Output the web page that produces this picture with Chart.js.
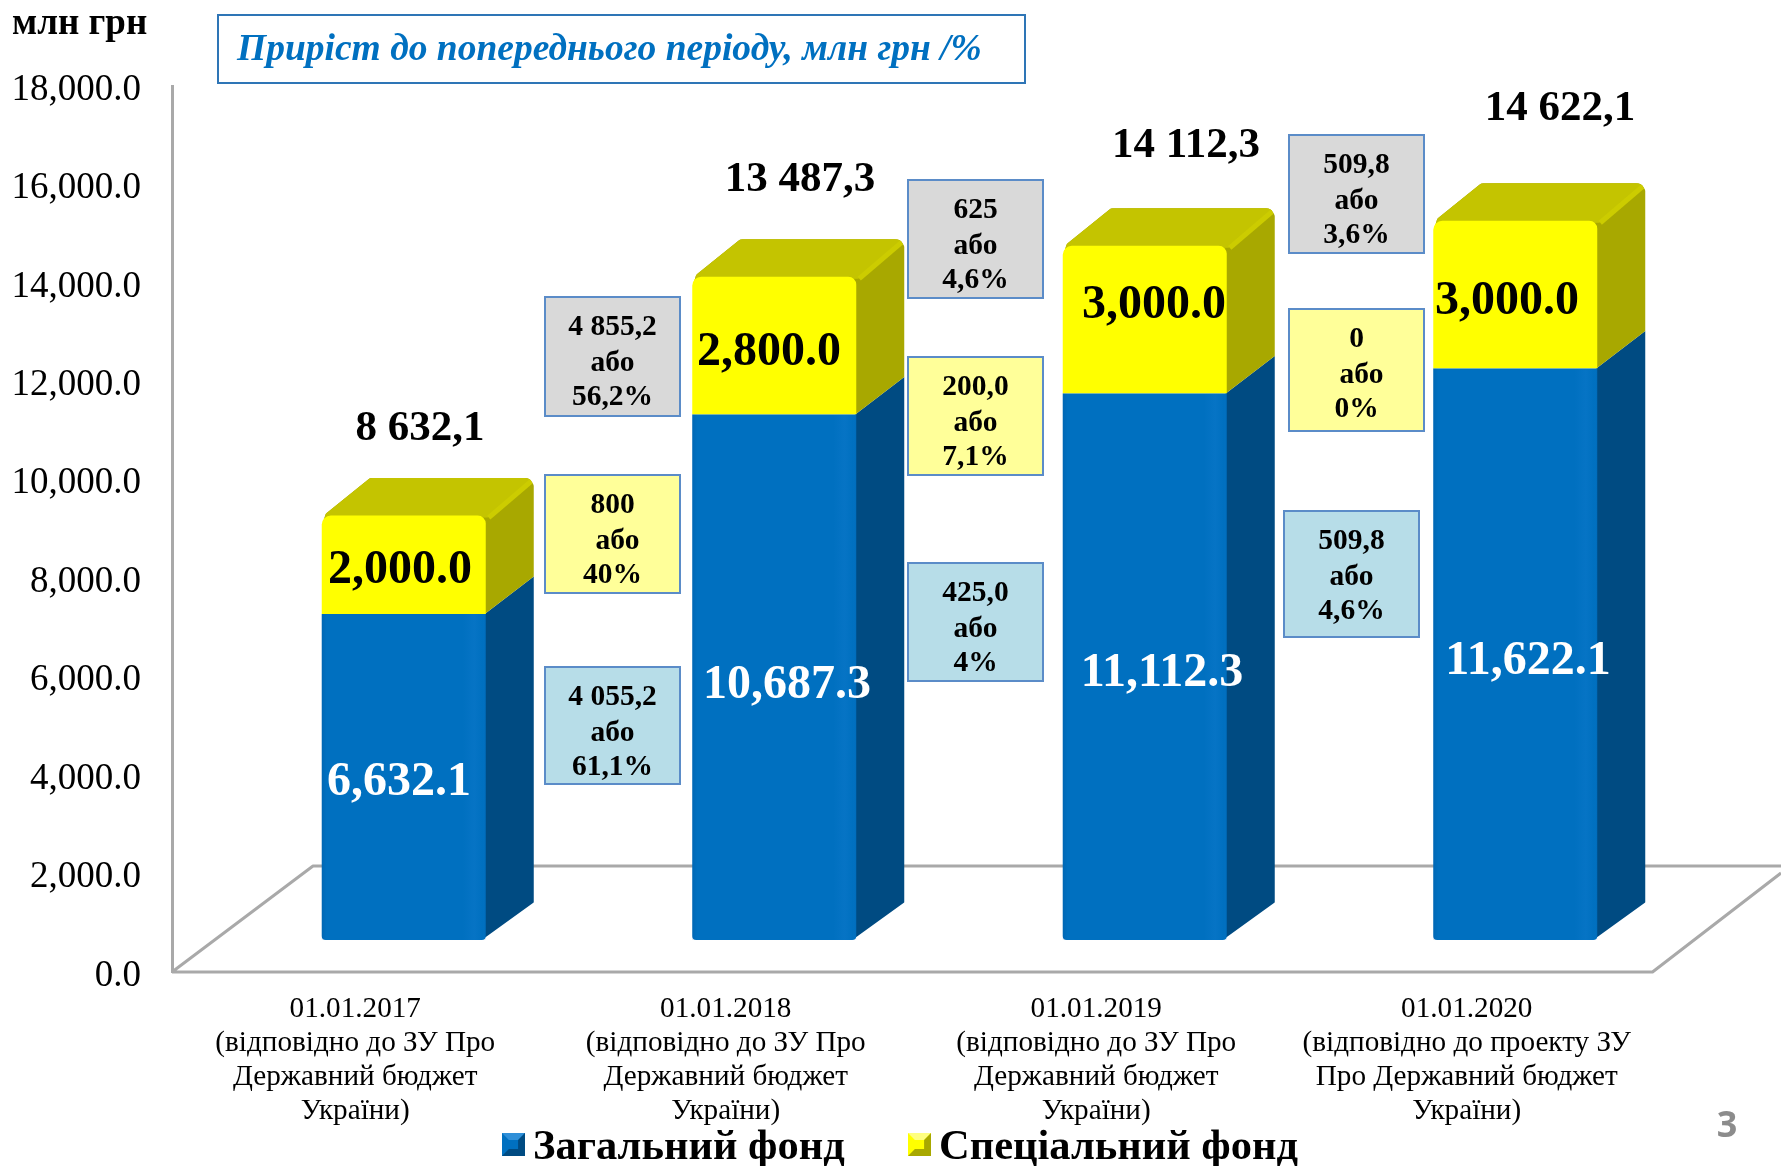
<!DOCTYPE html>
<html lang="uk">
<head>
<meta charset="utf-8">
<title>Приріст</title>
<script src="https://cdn.jsdelivr.net/npm/chart.js@4"></script>
<style>
html,body{margin:0;padding:0;background:#fff;overflow:hidden}
canvas{display:block}
</style>
</head>
<body>
<canvas id="c" width="1781" height="1166"></canvas>
<script>
// ---- data ----
const categories = [
  ['01.01.2017','(відповідно до ЗУ Про','Державний бюджет','України)'],
  ['01.01.2018','(відповідно до ЗУ Про','Державний бюджет','України)'],
  ['01.01.2019','(відповідно до ЗУ Про','Державний бюджет','України)'],
  ['01.01.2020','(відповідно до проекту ЗУ','Про Державний бюджет','України)']
];
const generalFund = [6632.1, 10687.3, 11112.3, 11622.1];
const specialFund = [2000.0, 2800.0, 3000.0, 3000.0];
const totalLabels = ['8 632,1','13 487,3','14 112,3','14 622,1'];
const seriesNames = ['Загальний фонд','Спеціальний фонд'];
const axisMax = 18000;
const axisStep = 2000;
const unitLabel = 'млн грн';
const headline = 'Приріст до попереднього періоду, млн грн /%';
const pageNumber = '3';
const growthTotal   = [['4 855,2','56,2%'],['625','4,6%'],['509,8','3,6%']];
const growthSpecial = [['800','40%'],['200,0','7,1%'],['0','0%']];
const growthGeneral = [['4 055,2','61,1%'],['425,0','4%'],['509,8','4,6%']];
const orWord = 'або';

// ---- layout (style only) ----
const SERIF = '"Liberation Serif", "Times New Roman", serif';
const AREA = {left:172, right:1654, top:86, bottom:972};
const SHIFT = {x:46.5, y:-31.5};
const DEPTH = {x:48, y:37.5};
const GREY = '#A9A9A9';
const BOX_STROKE = '#5B8CC8';
const boxCols = [
  {grey:[545,297,135,119], yellow:[545,475,135,118], blue:[545,667,135,117]},
  {grey:[908,180,135,118], yellow:[908,357,135,118], blue:[908,563,135,118]},
  {grey:[1289,135,135,118], yellow:[1289,309,135,122], blue:[1284,511,135,126]}
];
const orShift = {grey:[0,0,0], yellow:[5,0,5], blue:[0,0,0]};
const generalLabelPos = [[399,783],[787,686],[1162,674],[1528,662]];
const specialLabelPos = [[400,571],[769,353],[1154,306],[1507,302]];
const totalLabelPos   = [[420,429],[800,180],[1186,146],[1560,109]];

function fmt(v){ return v.toLocaleString('en-US',{minimumFractionDigits:1,maximumFractionDigits:1}); }

function roundedPoly(ctx, pts){
  // pts: [x, y, radius]
  const n = pts.length;
  const s = pts[0], e = pts[n-1];
  ctx.beginPath();
  ctx.moveTo((s[0]+e[0])/2,(s[1]+e[1])/2);
  for(let i=0;i<n;i++){
    const p = pts[i], q = pts[(i+1)%n];
    ctx.arcTo(p[0],p[1],q[0],q[1],p[2]||0.01);
  }
  ctx.closePath();
}

const scene = {
  id:'scene',
  beforeDatasetsDraw(chart){
    const ctx = chart.ctx;
    // floor
    ctx.save();
    ctx.strokeStyle = GREY; ctx.lineWidth = 3; ctx.lineJoin='round';
    ctx.beginPath();
    ctx.moveTo(AREA.left,AREA.bottom);
    ctx.lineTo(313,866);
    ctx.lineTo(1781,866);
    ctx.moveTo(AREA.left,AREA.bottom);
    ctx.lineTo(1652.5,AREA.bottom);
    ctx.lineTo(1781,873);
    ctx.stroke();
    ctx.restore();

    ctx.save();
    ctx.translate(SHIFT.x,SHIFT.y);
    const m0 = chart.getDatasetMeta(0).data, m1 = chart.getDatasetMeta(1).data;
    m0.forEach((bar,i)=>{
      const top = m1[i];
      const xl = bar.x-bar.width/2, xr = bar.x+bar.width/2;
      const dx = DEPTH.x, dy = DEPTH.y;
      // blue side
      ctx.fillStyle = '#004B82';
      roundedPoly(ctx,[[xr-4,bar.base,3],[xr+dx,bar.base-dy,1],[xr+dx,bar.y-dy,0],[xr-1,bar.y,0]]);
      ctx.fill();
      // silhouette of the yellow top: side + lid, with soft corners
      ctx.save();
      roundedPoly(ctx,[[xl+1,top.y+8,0],[xl+4,top.y-2,5],[xl+dx,top.y-dy,6],[xr+dx-4,top.y-dy,8],[xr+dx,top.y-dy+7,4],[xr+dx,bar.y-dy,0],[xr-1,bar.y,0]]);
      ctx.clip();
      ctx.fillStyle = '#A8A800';
      ctx.fillRect(xl-2,top.y-dy-2,bar.width+dx+4,bar.y-top.y+dy+4);
      ctx.fillStyle = '#C4C400';
      ctx.beginPath();
      ctx.moveTo(xl-dx*0.2,top.y+dy*0.2);
      ctx.lineTo(xl+dx,top.y-dy);
      ctx.lineTo(xr+dx+4,top.y-dy-3);
      ctx.lineTo(xr+2,top.y+2);
      ctx.closePath();
      ctx.fill();
      ctx.strokeStyle = '#CCCC00'; ctx.lineWidth = 5;
      ctx.beginPath();
      ctx.moveTo(xr+3,top.y+2); ctx.lineTo(xr+dx,top.y-dy+1); ctx.stroke();
      ctx.restore();
    });
  },
  afterDatasetsDraw(chart){
    const ctx = chart.ctx;
    const m0 = chart.getDatasetMeta(0).data;
    // soft edge shading on the blue front faces
    m0.forEach(bar=>{
      const xl = bar.x-bar.width/2;
      const g = ctx.createLinearGradient(xl,0,xl+bar.width,0);
      g.addColorStop(0,'rgba(0,50,110,.14)');
      g.addColorStop(.03,'rgba(0,50,110,0)');
      g.addColorStop(.86,'rgba(60,150,240,0)');
      g.addColorStop(.93,'rgba(60,150,240,.10)');
      g.addColorStop(.98,'rgba(60,150,240,0)');
      g.addColorStop(1,'rgba(0,50,110,.08)');
      ctx.fillStyle = g;
      ctx.fillRect(xl,bar.y,bar.width,bar.base-bar.y);
    });
    ctx.restore(); // matches translate in beforeDatasetsDraw

    // value labels
    ctx.save();
    ctx.textAlign='center'; ctx.textBaseline='middle';
    ctx.font = 'bold 48px '+SERIF;
    ctx.fillStyle='#fff';
    generalFund.forEach((v,i)=>ctx.fillText(fmt(v),generalLabelPos[i][0],generalLabelPos[i][1]));
    ctx.fillStyle='#000';
    specialFund.forEach((v,i)=>ctx.fillText(fmt(v),specialLabelPos[i][0],specialLabelPos[i][1]));
    ctx.font = 'bold 43px '+SERIF;
    totalLabels.forEach((t,i)=>ctx.fillText(t,totalLabelPos[i][0],totalLabelPos[i][1]));

    // growth boxes
    const drawBox = (r,fill,lines,shift)=>{
      ctx.fillStyle=fill; ctx.fillRect(r[0],r[1],r[2],r[3]);
      ctx.strokeStyle=BOX_STROKE; ctx.lineWidth=2; ctx.strokeRect(r[0],r[1],r[2],r[3]);
      ctx.fillStyle='#000'; ctx.font='bold 29.5px '+SERIF;
      ctx.fillText(lines[0],r[0]+r[2]/2,r[1]+30);
      ctx.fillText(orWord,r[0]+r[2]/2+shift,r[1]+66);
      ctx.fillText(lines[1],r[0]+r[2]/2,r[1]+100);
    };
    boxCols.forEach((c,i)=>{
      drawBox(c.grey,'#D9D9D9',growthTotal[i],orShift.grey[i]);
      drawBox(c.yellow,'#FFFF99',growthSpecial[i],orShift.yellow[i]);
      drawBox(c.blue,'#B7DDE8',growthGeneral[i],orShift.blue[i]);
    });

    // header
    ctx.textAlign='left';
    ctx.fillStyle='#000'; ctx.font='bold 37px '+SERIF;
    ctx.fillText(unitLabel,12,24);
    ctx.strokeStyle='#2E75B6'; ctx.lineWidth=2;
    ctx.strokeRect(218,15,807,68);
    ctx.fillStyle='#0070C0'; ctx.font='italic bold 37.5px '+SERIF;
    ctx.fillText(headline,237,50);

    // legend
    const marker = (x,y,s,base,hi,lo)=>{
      ctx.fillStyle=base; ctx.fillRect(x,y,s,s);
      ctx.fillStyle=hi;
      ctx.beginPath(); ctx.moveTo(x,y); ctx.lineTo(x+s,y); ctx.lineTo(x+s*.7,y+s*.3); ctx.lineTo(x+s*.3,y+s*.3); ctx.fill();
      ctx.fillStyle=lo;
      ctx.beginPath(); ctx.moveTo(x+s,y); ctx.lineTo(x+s,y+s); ctx.lineTo(x,y+s); ctx.lineTo(x+s*.3,y+s*.7); ctx.lineTo(x+s*.7,y+s*.7); ctx.lineTo(x+s*.7,y+s*.3); ctx.fill();
    };
    marker(502,1133,23,'#0070C0','#2F8FD8','#004B82');
    marker(908,1133,23,'#FFFF00','#FFFF80','#A8A800');
    ctx.fillStyle='#000'; ctx.font='bold 42.5px '+SERIF;
    ctx.fillText(seriesNames[0],533,1148);
    ctx.fillText(seriesNames[1],939,1148);

    // page number
    ctx.textAlign='center';
    ctx.fillStyle='#8C8C8C'; ctx.font='bold 36px "Open Sans", sans-serif';
    ctx.fillText(pageNumber,1727,1127);
    ctx.restore();
  }
};

new Chart(document.getElementById('c'),{
  type:'bar',
  data:{
    labels:categories,
    datasets:[
      {label:seriesNames[0],data:generalFund,backgroundColor:'#0070C0',
       borderRadius:{topLeft:0,topRight:0,bottomLeft:4,bottomRight:4},borderSkipped:false},
      {label:seriesNames[1],data:specialFund,backgroundColor:'#FFFF00',
       borderRadius:{topLeft:9,topRight:8,bottomLeft:0,bottomRight:0},borderSkipped:false}
    ]
  },
  options:{
    responsive:false,
    animation:false,
    devicePixelRatio:1,
    layout:{padding:{left:0,top:AREA.top,right:1781-AREA.right,bottom:0}},
    datasets:{bar:{categoryPercentage:1,barPercentage:164/370.5,inflateAmount:0}},
    plugins:{legend:{display:false},title:{display:false},tooltip:{enabled:false}},
    scales:{
      x:{
        stacked:true,
        grid:{display:false,drawTicks:false},
        border:{display:false},
        ticks:{padding:20,labelOffset:-2,color:'#000',maxRotation:0,autoSkip:false,
               font:{family:SERIF,size:29.2,lineHeight:34/29.2}},
        afterFit(s){s.height=1166-AREA.bottom;}
      },
      y:{
        stacked:true,min:0,max:axisMax,
        grid:{drawOnChartArea:false,drawTicks:false},
        border:{display:true,color:GREY,width:3},
        ticks:{stepSize:axisStep,padding:31,labelOffset:4,color:'#000',
               font:{family:SERIF,size:37},callback:v=>fmt(v)},
        afterFit(s){s.width=AREA.left;}
      }
    }
  },
  plugins:[scene]
});
</script>
</body>
</html>
